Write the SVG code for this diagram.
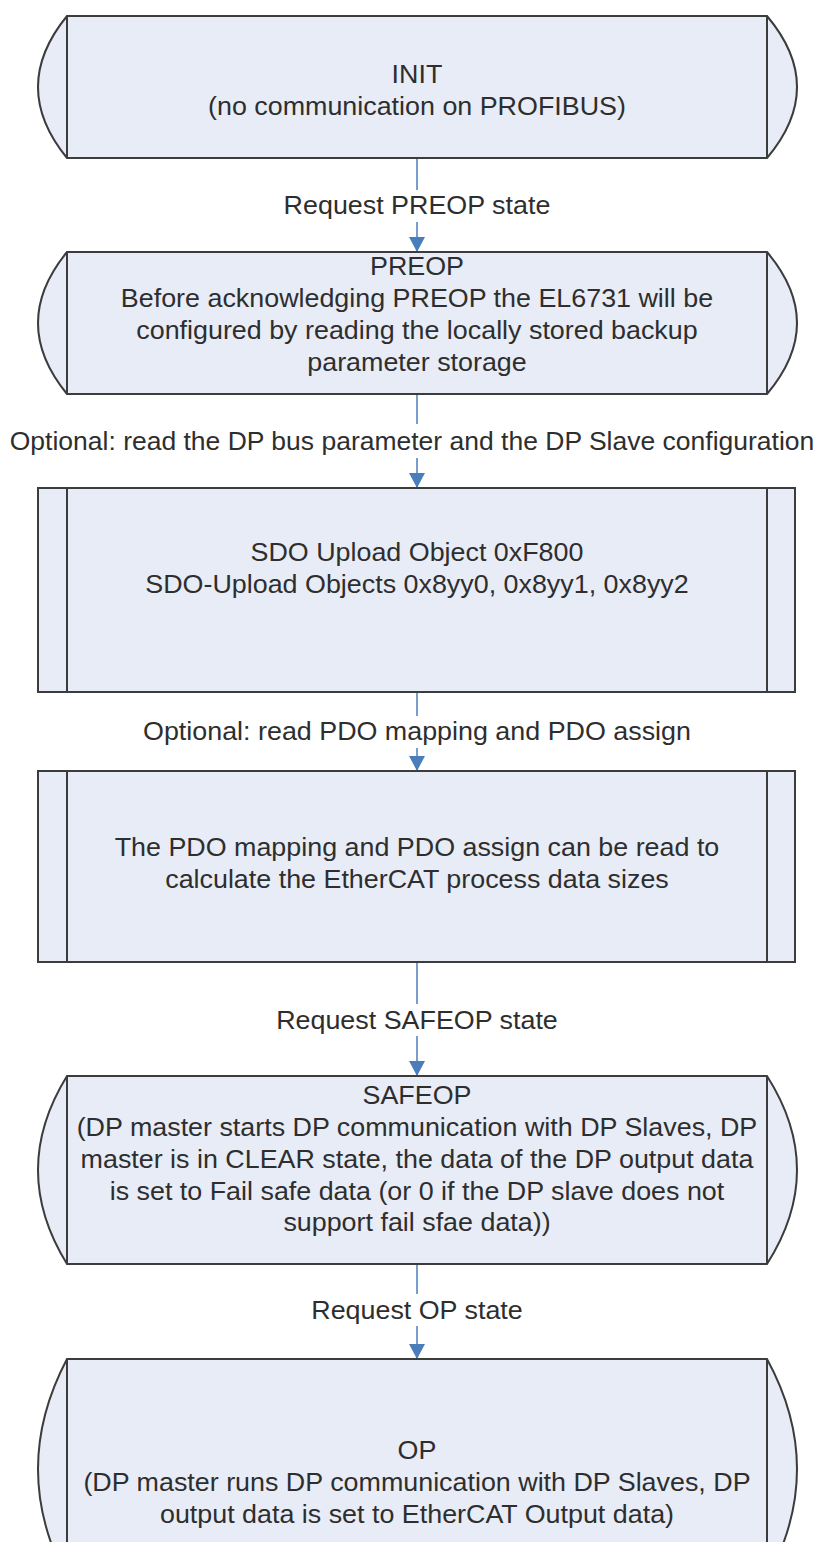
<svg xmlns="http://www.w3.org/2000/svg" width="822" height="1542" viewBox="0 0 822 1542">
<defs>
<style>
.shape{fill:#e8ecf6;stroke:#3c3c3c;stroke-width:2}
.div{stroke:#3c3c3c;stroke-width:2;fill:none}
.conn{stroke:#4a7ebb;stroke-width:1.5;fill:none}
.t{font-family:"Liberation Sans",Arial,sans-serif;font-size:25px;fill:#2e2e2e;text-anchor:middle}
</style>
<marker id="ah" markerUnits="userSpaceOnUse" markerWidth="16" markerHeight="18" refX="15" refY="8" orient="auto">
<path d="M0,0 L15,8 L0,16 Z" fill="#4a7ebb"/>
</marker>
</defs>
<g id="connectors">
<line class="conn" x1="417" y1="158" x2="417" y2="190"/>
<line class="conn" x1="417" y1="222" x2="417" y2="252" marker-end="url(#ah)"/>
<line class="conn" x1="417" y1="394" x2="417" y2="424"/>
<line class="conn" x1="417" y1="458" x2="417" y2="488" marker-end="url(#ah)"/>
<line class="conn" x1="417" y1="692" x2="417" y2="716"/>
<line class="conn" x1="417" y1="748" x2="417" y2="771" marker-end="url(#ah)"/>
<line class="conn" x1="417" y1="962" x2="417" y2="1004"/>
<line class="conn" x1="417" y1="1036" x2="417" y2="1076" marker-end="url(#ah)"/>
<line class="conn" x1="417" y1="1264" x2="417" y2="1294"/>
<line class="conn" x1="417" y1="1326" x2="417" y2="1359" marker-end="url(#ah)"/>
<g transform="translate(417 0) scale(1.075 1) translate(-417 0)">
<text class="t" x="417" y="214">Request PREOP state</text>
<text class="t" x="417" y="740">Optional: read PDO mapping and PDO assign</text>
<text class="t" x="417" y="1029">Request SAFEOP state</text>
<text class="t" x="417" y="1319">Request OP state</text>
</g>
<g transform="translate(412 0) scale(1.06 1) translate(-412 0)">
<text class="t" x="412" y="450">Optional: read the DP bus parameter and the DP Slave configuration</text>
</g>
</g>
<g id="init">
<path class="shape" d="M67,16 H767 Q827,87 767,158 H67 Q9,87 67,16 Z"/>
<path class="div" d="M67,16 V158 M767,16 V158"/>
<g transform="translate(417 0) scale(1.075 1) translate(-417 0)">
<text class="t" x="417" y="83">INIT</text>
<text class="t" x="417" y="115">(no communication on PROFIBUS)</text>
</g>
</g>
<g id="preop">
<path class="shape" d="M67,252 H767 Q827,323 767,394 H67 Q9,323 67,252 Z"/>
<path class="div" d="M67,252 V394 M767,252 V394"/>
<g transform="translate(417 0) scale(1.075 1) translate(-417 0)">
<text class="t" x="417" y="275">PREOP</text>
<text class="t" x="417" y="307">Before acknowledging PREOP the EL6731 will be</text>
<text class="t" x="417" y="339">configured by reading the locally stored backup</text>
<text class="t" x="417" y="371">parameter storage</text>
</g>
</g>
<g id="sdo">
<rect class="shape" x="38" y="488" width="757" height="204"/>
<path class="div" d="M67,488 V692 M767,488 V692"/>
<g transform="translate(417 0) scale(1.075 1) translate(-417 0)">
<text class="t" x="417" y="561">SDO Upload Object 0xF800</text>
<text class="t" x="417" y="593">SDO-Upload Objects 0x8yy0, 0x8yy1, 0x8yy2</text>
</g>
</g>
<g id="pdo">
<rect class="shape" x="38" y="771" width="757" height="191"/>
<path class="div" d="M67,771 V962 M767,771 V962"/>
<g transform="translate(417 0) scale(1.075 1) translate(-417 0)">
<text class="t" x="417" y="856">The PDO mapping and PDO assign can be read to</text>
<text class="t" x="417" y="888">calculate the EtherCAT process data sizes</text>
</g>
</g>
<g id="safeop">
<path class="shape" d="M67,1076 H767 Q827,1170 767,1264 H67 Q9,1170 67,1076 Z"/>
<path class="div" d="M67,1076 V1264 M767,1076 V1264"/>
<g transform="translate(417 0) scale(1.075 1) translate(-417 0)">
<text class="t" x="417" y="1104">SAFEOP</text>
<text class="t" x="417" y="1136">(DP master starts DP communication with DP Slaves, DP</text>
<text class="t" x="417" y="1168">master is in CLEAR state, the data of the DP output data</text>
<text class="t" x="417" y="1200">is set to Fail safe data (or 0 if the DP slave does not</text>
<text class="t" x="417" y="1231">support fail sfae data))</text>
</g>
</g>
<g id="op">
<path class="shape" d="M67,1359 H767 Q827,1469 767,1579 H67 Q9,1469 67,1359 Z"/>
<path class="div" d="M67,1359 V1579 M767,1359 V1579"/>
<g transform="translate(417 0) scale(1.075 1) translate(-417 0)">
<text class="t" x="417" y="1459">OP</text>
<text class="t" x="417" y="1491">(DP master runs DP communication with DP Slaves, DP</text>
<text class="t" x="417" y="1523">output data is set to EtherCAT Output data)</text>
</g>
</g>
</svg>
